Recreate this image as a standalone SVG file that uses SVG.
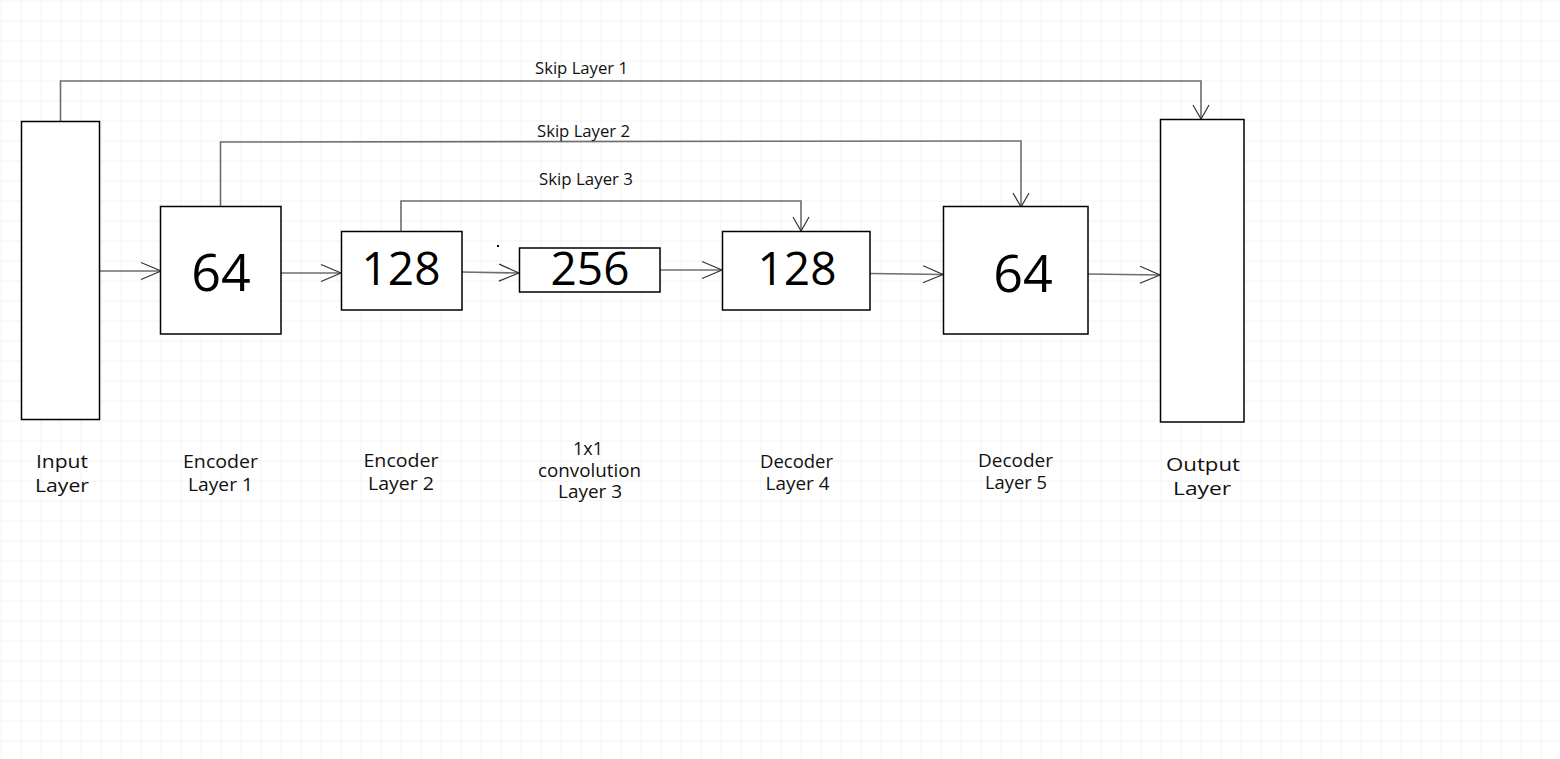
<svg xmlns="http://www.w3.org/2000/svg" width="1560" height="759" viewBox="0 0 1560 759">
  <defs>
    <pattern id="grid" width="20" height="20" patternUnits="userSpaceOnUse" x="0.5" y="0.5">
      <path d="M 20 0 L 0 0 0 20" fill="none" stroke="#e6e6e6" stroke-width="1"/>
    </pattern>
    <!-- long open arrowhead for the forward path -->
    <marker id="open" markerWidth="24" markerHeight="20" refX="22" refY="10" orient="auto" markerUnits="userSpaceOnUse">
      <path d="M 2 1.5 L 22 10 L 2 18.5" fill="none" stroke="#333" stroke-width="1.2"/>
    </marker>
    <!-- shorter open arrowhead for the skip links -->
    <marker id="openShort" markerWidth="18" markerHeight="20" refX="16" refY="10" orient="auto" markerUnits="userSpaceOnUse">
      <path d="M 2 2 L 16 10 L 2 18" fill="none" stroke="#333" stroke-width="1.2"/>
    </marker>
  </defs>
  <style>
    .box { fill: #fff; stroke: #000; stroke-width: 1.5; }
    .conn { fill: none; stroke: #6e6e6e; stroke-width: 1.6; }
    .num { font-family: "Open Sans", "Noto Sans", sans-serif; fill: #000; text-anchor: middle; }
    .lbl { font-family: "Open Sans", "Noto Sans", sans-serif; fill: #111; text-anchor: middle; font-size: 19px; }
    .skip { font-family: "Open Sans", "Noto Sans", sans-serif; fill: #111; text-anchor: middle; font-size: 16px; }
  </style>
  <rect width="1560" height="759" fill="#fff"/>
  <rect width="1560" height="759" fill="url(#grid)"/>

  <g id="connectors">
    <path class="conn" d="M 60.5 121 L 60.5 81 L 1201 81 L 1201 119" marker-end="url(#openShort)"/>
    <path class="conn" d="M 220.5 206 L 220.5 142 L 1021 141 L 1021 207" marker-end="url(#openShort)"/>
    <path class="conn" d="M 401 231 L 401 201 L 801 201 L 801 231" marker-end="url(#openShort)"/>
    <path class="conn" d="M 100 271 L 161 271" marker-end="url(#open)"/>
    <path class="conn" d="M 281 273 L 341 273" marker-end="url(#open)"/>
    <path class="conn" d="M 460 272 L 519 273" marker-end="url(#open)"/>
    <path class="conn" d="M 660 270 L 722 270" marker-end="url(#open)"/>
    <path class="conn" d="M 870 273.5 L 943 274.5" marker-end="url(#open)"/>
    <path class="conn" d="M 1088 274 L 1160 275" marker-end="url(#open)"/>
  </g>

  <g id="input-layer">
    <rect class="box" x="21.5" y="121.5" width="78" height="298"/>
    <text class="lbl" x="62" y="468" font-size="20" textLength="52" lengthAdjust="spacingAndGlyphs">Input</text>
    <text class="lbl" x="62" y="492" font-size="20" textLength="54" lengthAdjust="spacingAndGlyphs">Layer</text>
  </g>

  <g id="encoder-1">
    <rect class="box" x="160.5" y="206.5" width="120.5" height="127.5"/>
    <text class="num" x="221" y="291" font-size="52">64</text>
    <text class="lbl" x="220.5" y="468" textLength="75" lengthAdjust="spacingAndGlyphs">Encoder</text>
    <text class="lbl" x="220.5" y="491" textLength="65" lengthAdjust="spacingAndGlyphs">Layer 1</text>
  </g>

  <g id="encoder-2">
    <rect class="box" x="341.5" y="231.5" width="120.5" height="78.5"/>
    <text class="num" x="401" y="285" font-size="46">128</text>
    <text class="lbl" x="401" y="467" textLength="75" lengthAdjust="spacingAndGlyphs">Encoder</text>
    <text class="lbl" x="401" y="490" textLength="66" lengthAdjust="spacingAndGlyphs">Layer 2</text>
  </g>

  <g id="conv-3">
    <rect class="box" x="519.5" y="248" width="140.5" height="44"/>
    <text class="num" x="590" y="285" font-size="46">256</text>
    <text class="lbl" x="588" y="455" textLength="30" lengthAdjust="spacingAndGlyphs">1x1</text>
    <text class="lbl" x="589.5" y="477" textLength="103" lengthAdjust="spacingAndGlyphs">convolution</text>
    <text class="lbl" x="590" y="498" textLength="64" lengthAdjust="spacingAndGlyphs">Layer 3</text>
  </g>

  <rect x="497" y="245" width="2" height="2" fill="#000"/>

  <g id="decoder-4">
    <rect class="box" x="722.5" y="231.5" width="147.5" height="78.5"/>
    <text class="num" x="797" y="285" font-size="46">128</text>
    <text class="lbl" x="796.5" y="468" textLength="73" lengthAdjust="spacingAndGlyphs">Decoder</text>
    <text class="lbl" x="797.5" y="490" textLength="64" lengthAdjust="spacingAndGlyphs">Layer 4</text>
  </g>

  <g id="decoder-5">
    <rect class="box" x="943.5" y="206.5" width="144.5" height="127.5"/>
    <text class="num" x="1023" y="292" font-size="52">64</text>
    <text class="lbl" x="1015.5" y="467" textLength="75" lengthAdjust="spacingAndGlyphs">Decoder</text>
    <text class="lbl" x="1016" y="489" textLength="62" lengthAdjust="spacingAndGlyphs">Layer 5</text>
  </g>

  <g id="output-layer">
    <rect class="box" x="1160.5" y="119.5" width="83.5" height="302.5"/>
    <text class="lbl" x="1203" y="471" font-size="22" textLength="74" lengthAdjust="spacingAndGlyphs">Output</text>
    <text class="lbl" x="1202" y="495" font-size="22" textLength="58" lengthAdjust="spacingAndGlyphs">Layer</text>
  </g>

  <g id="skip-labels">
    <text class="skip" x="581.5" y="74" textLength="93" lengthAdjust="spacingAndGlyphs">Skip Layer 1</text>
    <text class="skip" x="583.5" y="136.5" textLength="93" lengthAdjust="spacingAndGlyphs">Skip Layer 2</text>
    <text class="skip" x="586" y="185" textLength="94" lengthAdjust="spacingAndGlyphs">Skip Layer 3</text>
  </g>
</svg>
